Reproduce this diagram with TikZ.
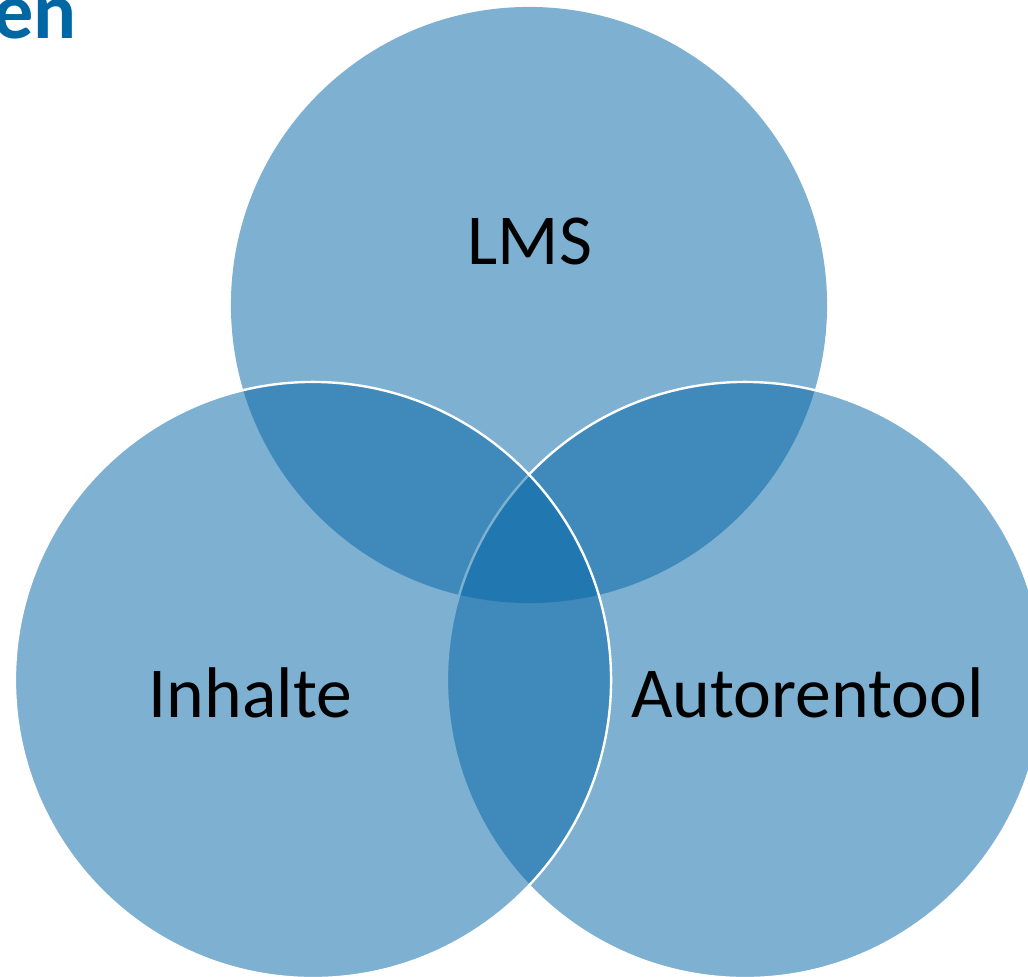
\documentclass[tikz,border=0pt]{standalone}
\usepackage{fontspec}
\setmainfont{Carlito}
\usepackage{xcolor}

\definecolor{vennblue}{RGB}{7,104,168}
\definecolor{titleblue}{RGB}{0,103,165}

\tikzset{
  venn/.style={fill=vennblue, fill opacity=0.52},
  vennline/.style={venn, draw=white, line width=1.7pt},
  vennlabel/.style={anchor=base, font=\fontsize{51}{53}\selectfont, text=black}
}

\begin{document}
\begin{tikzpicture}[x=0.025cm, y=-0.025cm]
            \useasboundingbox (0,0) rectangle (1028,976);
            \clip (0,0) rectangle (1028,976);
            \fill[white] (0,0) rectangle (1028,976);
            \begin{scope}
                \path[venn]     (529,305) circle[radius=7.45cm];
                \path[vennline] (745,680) circle[radius=7.45cm];
                \path[vennline] (313,680) circle[radius=7.45cm];
            \end{scope}
            \node[vennlabel] (lms) at (530,264) {LMS};
            \node[vennlabel] (inhalte) at (250.5,717) {Inhalte};
            \node[vennlabel] (autorentool) at (807.5,717) {Autorentool};
            \node[anchor=base east, inner sep=0pt, text=titleblue,
                  font=\fontsize{57}{59}\selectfont\bfseries] (title) at (77,38) {en};
        \end{tikzpicture}
\end{document}
